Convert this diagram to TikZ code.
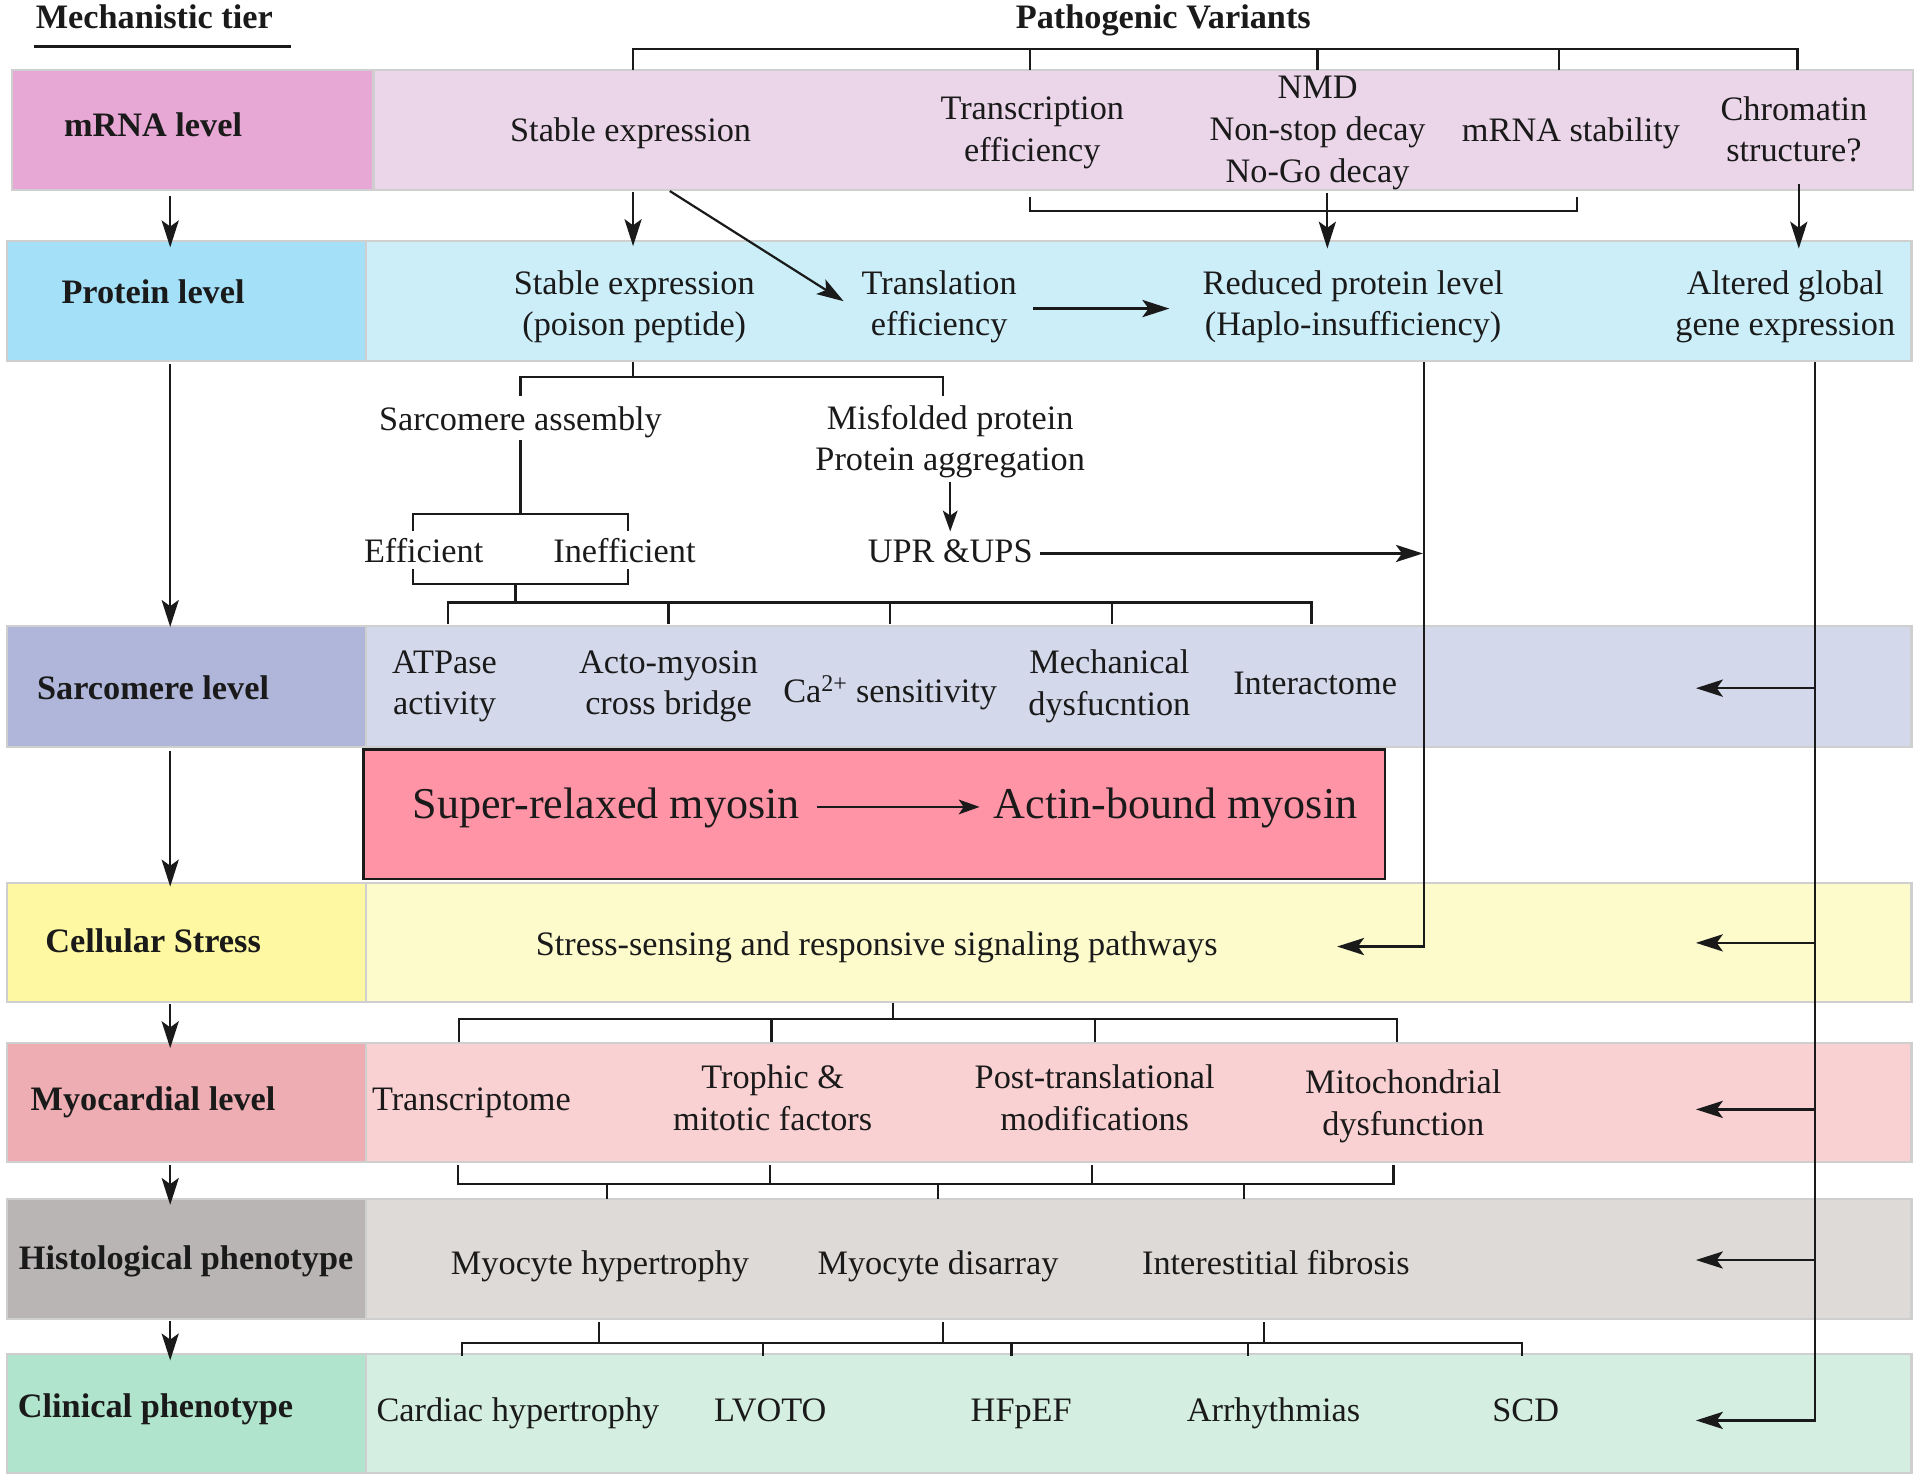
\documentclass[tikz,border=0pt]{standalone}
\usepackage{fontspec}
\setmainfont{Liberation Serif}
\usetikzlibrary{arrows.meta,fit}
\definecolor{bordergray}{HTML}{CFCFCF}
\definecolor{mrnaL}{HTML}{E8A8D6}
\definecolor{mrnaC}{HTML}{EAD5E9}
\definecolor{protL}{HTML}{A4E1F8}
\definecolor{protC}{HTML}{CCEEF9}
\definecolor{sarcL}{HTML}{AFB6D9}
\definecolor{sarcC}{HTML}{D3D8EA}
\definecolor{redC}{HTML}{FF94A6}
\definecolor{cellL}{HTML}{FDF8A1}
\definecolor{cellC}{HTML}{FDFACB}
\definecolor{myoL}{HTML}{EEADB2}
\definecolor{myoC}{HTML}{F9D1D3}
\definecolor{histL}{HTML}{B9B5B5}
\definecolor{histC}{HTML}{DEDAD7}
\definecolor{clinL}{HTML}{B1E4CD}
\definecolor{clinC}{HTML}{D4EEE2}
\definecolor{ink}{HTML}{1A1A1A}
\newcommand\sst{\rule[-7pt]{0pt}{27pt}}
\tikzset{
  base/.style={inner sep=0pt, outer sep=0pt},
  txt/.style={base, font=\fontsize{28}{34}\selectfont, align=center, text=ink,
    execute at begin node=\sst, execute at end node=\sst},
  bigtxt/.style={base, font=\fontsize{36}{42}\selectfont, align=center, text=ink},
  lbl/.style={txt, font=\bfseries\fontsize{28}{34}\selectfont},
  bandbox/.style={base, draw=bordergray, line width=1.8pt},
  ln/.style={line width=1.8pt, draw=ink},
  arr/.style={ln, -{Stealth[length=22pt,width=14pt,inset=5pt]}},
  smallarr/.style={ln, -{Stealth[length=17pt,width=12pt,inset=4pt]}},
}
\begin{document}
\begin{tikzpicture}[x=1pt,y=-1pt]
\useasboundingbox (0,0) rectangle (1568,1209);
% ---------- bands ----------
\node[bandbox, fill=mrnaL, fit={(10,57)(305,155)}] (mB) {};
\node[bandbox, fill=mrnaC, fit={(305,57)(1562,155)}] (mC) {};
\node[bandbox, fill=protL, fit={(6,197)(299,295)}] (pB) {};
\node[bandbox, fill=protC, fit={(299,197)(1561,295)}] (pC) {};
\node[bandbox, fill=sarcL, fit={(6,511)(299,610)}] (sB) {};
\node[bandbox, fill=sarcC, fit={(299,511)(1561,610)}] (sC) {};
\node[bandbox, fill=cellL, fit={(6,721)(299,818)}] (cB) {};
\node[bandbox, fill=cellC, fit={(299,721)(1561,818)}] (cC) {};
\node[bandbox, fill=myoL, fit={(6,852)(299,949)}] (yB) {};
\node[bandbox, fill=myoC, fit={(299,852)(1561,949)}] (yC) {};
\node[bandbox, fill=histL, fit={(6,979)(299,1077)}] (hB) {};
\node[bandbox, fill=histC, fit={(299,979)(1561,1077)}] (hC) {};
\node[bandbox, fill=clinL, fit={(6,1106)(299,1203)}] (kB) {};
\node[bandbox, fill=clinC, fit={(299,1106)(1561,1203)}] (kC) {};
\node[base, draw=ink, line width=2pt, fill=redC, fit={(297,612)(1131,718)}] (rB) {};

% ---------- header ----------
\node[lbl] (mtier) at (126,17) {Mechanistic tier};
\coordinate (ulA) at (28,38); \coordinate (ulB) at (238,38);
\draw[ln, line width=2pt] (ulA) -- (ulB);
\node[lbl] (pv) at (950,17) {Pathogenic Variants};

% top bracket
\foreach \n/\x in {0/517,1/841,2/1076,3/1273,4/1468}{
  \coordinate (tt\n) at (\x,40); \coordinate (tu\n) at (\x,57);}
\draw[ln] (tu0) -- (tt0) -- (tt4) -- (tu4);
\foreach \n in {1,2,3}{\draw[ln] (tt\n) -- (tu\n);}

% ---------- level labels ----------
\node[lbl] (mL) at (125,105) {mRNA level};
\node[lbl] (pL) at (125,241) {Protein level};
\node[lbl] (sL) at (125,565) {Sarcomere level};
\node[lbl] (cL) at (125,771) {Cellular Stress};
\node[lbl] (yL) at (125,900) {Myocardial level};
\node[lbl] (hL) at (152,1030) {Histological phenotype};
\node[lbl] (kL) at (127,1151) {Clinical phenotype};

% label column arrows
\foreach \n/\a/\b in {1/160/202,2/297/512,3/613/724,4/820/856,5/951/984,6/1079/1111}{
  \coordinate (la\n) at (139,\a); \coordinate (lb\n) at (139,\b);
  \draw[arr] (la\n) -- (lb\n);}

% ---------- mRNA row ----------
\node[txt] (m1) at (515,109) {Stable expression};
\node[txt] (m2) at (843,109) {Transcription\\efficiency};
\node[txt] (m3) at (1076,109) {NMD\\Non-stop decay\\No-Go decay};
\node[txt] (m4) at (1283,109) {mRNA stability};
\node[txt] (m5) at (1465,109) {Chromatin\\structure?};

% ---------- protein row ----------
\node[txt] (p1) at (518,251) {Stable expression\\(poison peptide)};
\node[txt] (p2) at (767,251) {Translation\\efficiency};
\node[txt] (p3) at (1105,251) {Reduced protein level\\(Haplo-insufficiency)};
\node[txt] (p4) at (1458,251) {Altered global\\gene expression};

% mRNA -> protein connectors
\coordinate (d1a) at (517,157); \coordinate (d1b) at (517,201);
\draw[arr] (d1a) -- (d1b);
\coordinate (d2a) at (547,156); \coordinate (d2b) at (689,246);
\draw[arr] (d2a) -- (d2b);
\coordinate (bkA) at (841,161); \coordinate (bkB) at (841,172);
\coordinate (bkC) at (1288,172); \coordinate (bkD) at (1288,161);
\draw[ln] (bkA) -- (bkB) -- (bkC) -- (bkD);
\coordinate (d3a) at (1084,158); \coordinate (d3b) at (1084,203);
\draw[arr] (d3a) -- (d3b);
\coordinate (d4a) at (1469,150); \coordinate (d4b) at (1469,203);
\draw[arr] (d4a) -- (d4b);
\coordinate (trA) at (844,252); \coordinate (trB) at (955,252);
\draw[arr, line width=2.4pt] (trA) -- (trB);

% ---------- between protein and sarcomere ----------
\node[txt] (s1) at (425,345) {Sarcomere assembly};
\node[txt] (s2) at (776,361) {Misfolded protein\\Protein aggregation};
\node[txt] (e1) at (346,453) {Efficient};
\node[txt] (e2) at (510,453) {Inefficient};
\node[txt] (u1) at (776,453) {UPR \&UPS};

\coordinate (q0) at (517,296); \coordinate (q1) at (517,308);
\coordinate (q2) at (425,308); \coordinate (q3) at (770,308);
\coordinate (q4) at (425,323); \coordinate (q5) at (770,323);
\draw[ln] (q0) -- (q1);
\draw[ln] (q4) -- (q2) -- (q3) -- (q5);

\coordinate (sa0) at (425,359); \coordinate (sa1) at (425,420);
\coordinate (sa2) at (337,420); \coordinate (sa3) at (513,420);
\coordinate (sa4) at (337,434); \coordinate (sa5) at (513,434);
\draw[ln] (sa0) -- (sa1);
\draw[ln] (sa4) -- (sa2) -- (sa3) -- (sa5);

\coordinate (mf0) at (776,394); \coordinate (mf1) at (776,434);
\draw[smallarr] (mf0) -- (mf1);
\coordinate (up0) at (849,452); \coordinate (up1) at (1162,452);
\draw[arr] (up0) -- (up1);

\coordinate (ef0) at (337,465); \coordinate (ef1) at (337,477);
\coordinate (ef2) at (513,477); \coordinate (ef3) at (513,465);
\draw[ln] (ef0) -- (ef1) -- (ef2) -- (ef3);
\coordinate (ef4) at (421,477); \coordinate (ef5) at (421,492);
\draw[ln] (ef4) -- (ef5);
\foreach \n/\x in {0/366,1/546,2/727,3/908,4/1071}{
  \coordinate (sb\n) at (\x,492); \coordinate (st\n) at (\x,510);}
\draw[ln] (st0) -- (sb0) -- (sb4) -- (st4);
\foreach \n in {1,2,3}{\draw[ln] (sb\n) -- (st\n);}

% ---------- sarcomere row ----------
\node[txt] (a1) at (363,561) {ATPase\\activity};
\node[txt] (a2) at (546,561) {Acto-myosin\\cross bridge};
\node[txt] (a3) at (727,566) {Ca\textsuperscript{2+} sensitivity};
\node[txt] (a4) at (906,561) {Mechanical\\dysfucntion};
\node[txt] (a5) at (1074,561) {Interactome};

% ---------- red box ----------
\node[bigtxt] (r1) at (495,660) {Super-relaxed myosin};
\node[bigtxt] (r2) at (960,660) {Actin-bound myosin};
\coordinate (rA) at (667,659); \coordinate (rB2) at (800,659);
\draw[smallarr, line width=1.6pt] (rA) -- (rB2);

% ---------- cellular ----------
\node[txt] (c1) at (716,774) {Stress-sensing and responsive signaling pathways};

% haplo line
\coordinate (hp0) at (1163,296); \coordinate (hp1) at (1163,773);
\coordinate (hp2) at (1092,773);
\draw[arr] (hp0) -- (hp1) -- (hp2);

% right global line
\coordinate (gl0) at (1482,296); \coordinate (gl1) at (1482,1160);
\coordinate (gl2) at (1385,1160);
\draw[arr] (gl0) -- (gl1) -- (gl2);
\foreach \n/\y in {1/562,2/770,3/906,4/1029}{
  \coordinate (ga\n) at (1482,\y); \coordinate (gb\n) at (1385,\y);
  \draw[arr] (ga\n) -- (gb\n);}

% cellular -> myocardial bracket
\coordinate (cm0) at (729,819); \coordinate (cm1) at (729,832);
\draw[ln] (cm0) -- (cm1);
\foreach \n/\x in {0/375,1/630,2/894,3/1141}{
  \coordinate (cb\n) at (\x,832); \coordinate (ct\n) at (\x,851);}
\draw[ln] (ct0) -- (cb0) -- (cb3) -- (ct3);
\foreach \n in {1,2}{\draw[ln] (cb\n) -- (ct\n);}

% ---------- myocardial ----------
\node[txt] (y1) at (385,900) {Transcriptome};
\node[txt] (y2) at (631,900) {Trophic \&\\mitotic factors};
\node[txt] (y3) at (894,900) {Post-translational\\modifications};
\node[txt] (y4) at (1146,904) {Mitochondrial\\dysfunction};

% myocardial -> histological bracket
\foreach \n/\x in {0/374,1/629,2/892,3/1138}{
  \coordinate (mu\n) at (\x,951); \coordinate (mb\n) at (\x,967);}
\draw[ln] (mu0) -- (mb0) -- (mb3) -- (mu3);
\foreach \n in {1,2}{\draw[ln] (mu\n) -- (mb\n);}
\foreach \n/\x in {0/496,1/766,2/1016}{
  \coordinate (md\n) at (\x,967); \coordinate (me\n) at (\x,979);
  \draw[ln] (md\n) -- (me\n);}

% ---------- histological ----------
\node[txt] (h1) at (490,1034) {Myocyte hypertrophy};
\node[txt] (h2) at (766,1034) {Myocyte disarray};
\node[txt] (h3) at (1042,1034) {Interestitial fibrosis};

% histological -> clinical bracket
\foreach \n/\x in {0/489,1/770,2/1032}{
  \coordinate (hu\n) at (\x,1080); \coordinate (hv\n) at (\x,1097);
  \draw[ln] (hu\n) -- (hv\n);}
\foreach \n/\x in {0/377,1/623,2/826,3/1019,4/1243}{
  \coordinate (kb\n) at (\x,1097); \coordinate (kt\n) at (\x,1107);}
\draw[ln] (kt0) -- (kb0) -- (kb4) -- (kt4);
\foreach \n in {1,2,3}{\draw[ln] (kb\n) -- (kt\n);}

% ---------- clinical ----------
\node[txt] (k1) at (423,1154) {Cardiac hypertrophy};
\node[txt] (k2) at (629,1154) {LVOTO};
\node[txt] (k3) at (834,1154) {HFpEF};
\node[txt] (k4) at (1040,1154) {Arrhythmias};
\node[txt] (k5) at (1246,1154) {SCD};
\end{tikzpicture}
\end{document}
